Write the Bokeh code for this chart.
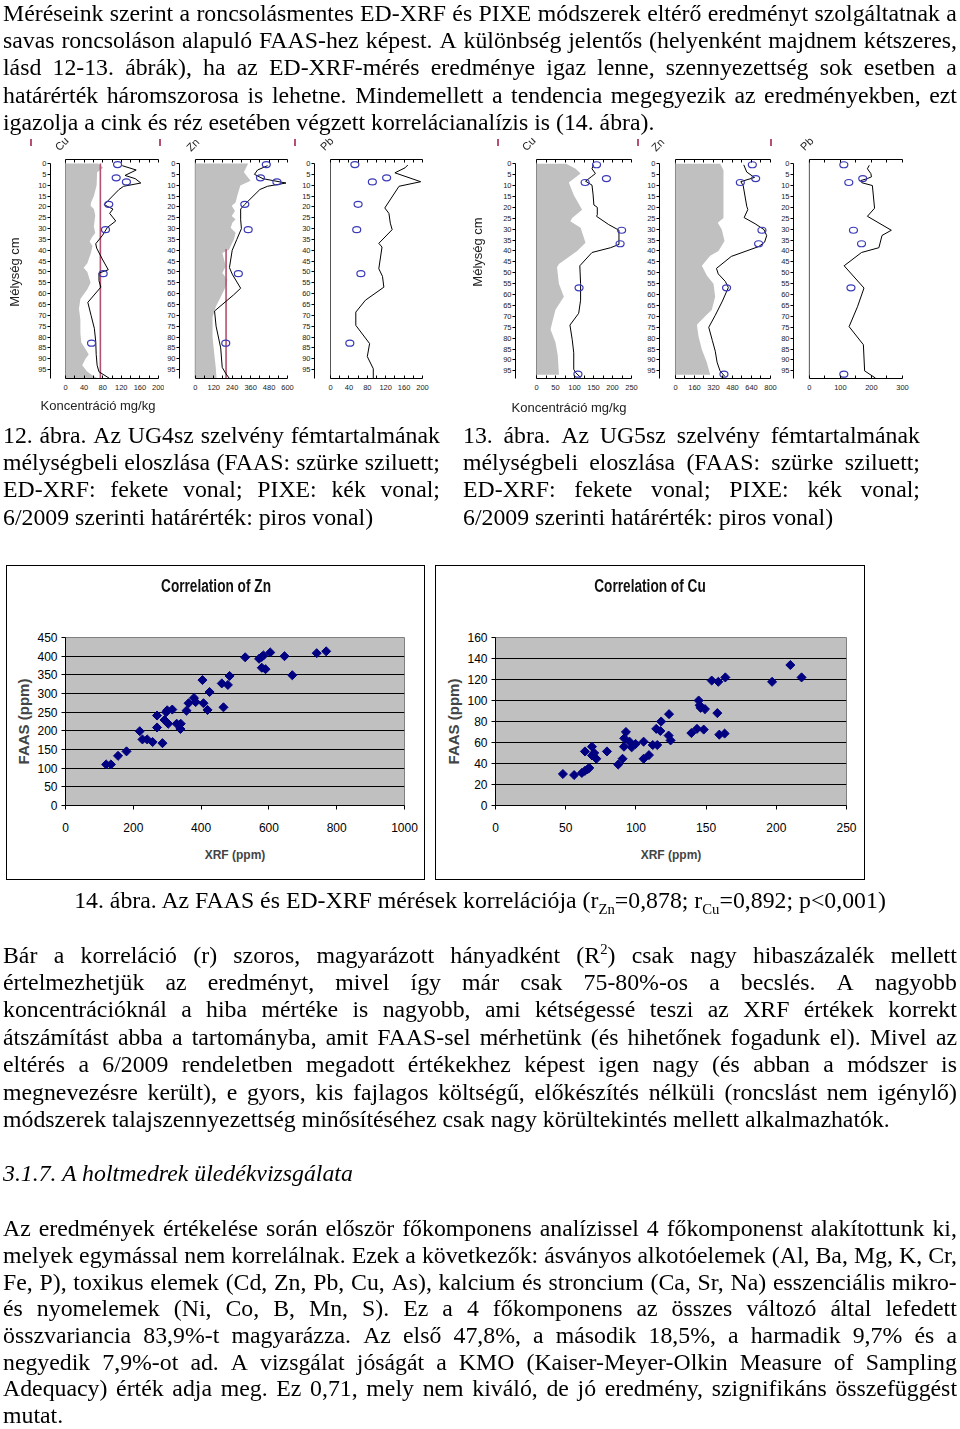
import numpy as np
from bokeh.plotting import figure
from bokeh.models import Range1d, LinearAxis, FixedTicker, Div, Spacer
from bokeh.layouts import row, column
from bokeh.embed import file_html
from bokeh.resources import INLINE

# ---------------- data: UG4sz profile (fig. 12) ----------------
ug4_pixe_depth = [0.5, 6.6, 8.5, 18.8, 30.5, 50.8, 82.8]
cu4_pixe = [112, 109, 131, 93, 86, 81, 56]
zn4_pixe = [462, 424, 531, 322, 344, 280, 198]
pb4_pixe = [53, 122, 91, 60, 57, 66, 42]

cu4_faas_depth = [0, 2, 4, 10, 15, 18, 19.5, 21, 24, 29, 32, 34, 36, 38, 41, 46, 48, 50, 55, 58,
                  62.5, 67, 72, 78, 82.5, 85.5, 88, 90, 93, 96, 98, 99.1]
cu4_faas = [70, 81, 68, 67, 61, 55, 54, 61, 64, 61, 64, 57, 52, 58, 55, 47, 39, 47, 54, 47,
            32, 29, 32, 32, 34, 43, 50, 43, 36, 47, 60, 70]
cu4_xrf_depth = [1, 3, 5.5, 7, 9, 10.5, 12, 19, 21, 23, 26.5, 29.5, 33, 37, 39, 44, 49, 50.5, 54, 57,
                 64, 70, 76, 82, 88, 93, 96, 99.1]
cu4_xrf = [122, 152, 128, 150, 162, 125, 115, 83, 102, 95, 108, 90, 80, 65, 67, 79, 92, 72, 72, 76,
           48, 55, 62, 65, 66, 68, 72, 95]

zn4_faas_depth = [0, 4, 7.9, 10.2, 14.9, 18, 19.5, 21.9, 24.2, 25.7, 27.3, 29.6, 31.9, 35, 39.7, 41.2,
                  47.4, 50.5, 53.6, 56.7, 61.4, 66, 70.7, 80, 87.7, 94, 99.1]
zn4_faas = [344, 316, 360, 293, 273, 262, 237, 258, 237, 262, 241, 230, 262, 251, 219, 176,
            198, 176, 209, 198, 166, 133, 112, 112, 123, 133, 138]
zn4_xrf_depth = [1, 3, 5, 7, 9, 10.5, 12, 19, 21, 26, 30, 35, 40, 48, 51, 57.5, 60.5, 68, 75, 85, 94, 97, 99.1]
zn4_xrf = [470, 405, 385, 440, 590, 470, 420, 320, 295, 295, 300, 270, 240, 222, 240, 295, 250,
           125, 135, 165, 175, 200, 222]

pb4_xrf_depth = [0.7, 2, 4.3, 8.4, 10.5, 20.5, 23, 27.5, 30.5, 36.8, 38.5, 48.5, 52, 57, 63, 68.5,
                 74.6, 83, 89, 94.6, 99.1]
pb4_xrf = [168, 162, 140, 196, 149, 118, 127, 130, 134, 105, 112, 105, 113, 116, 76, 55, 55, 85, 80, 93, 93]

cu_limit = 75
zn_limit = 200

# ---------------- data: UG5sz profile (fig. 13) ----------------
ug5_pixe_depth = [0.45, 6.8, 8.6, 30.5, 36.7, 56.9, 96.5]
cu5_pixe = [158, 184, 128, 224, 220, 112, 109]
zn5_pixe = [647, 675, 546, 728, 700, 430, 408]
pb5_pixe = [111, 172, 127, 142, 168, 134, 111]

cu5_faas_depth = [0, 2.3, 4.5, 8.6, 14.3, 21.1, 24.9, 26.4, 29.4, 36.2, 40, 46, 47.5, 55, 61, 67, 73, 76,
                  82, 88, 96.8]
cu5_faas = [78, 103, 116, 85, 98, 120, 94, 89, 116, 129, 107, 59, 54, 59, 72, 50, 41, 37, 50, 56, 59]
cu5_xrf_depth = [0.45, 2.3, 4.5, 6, 8, 9.8, 14.3, 18.9, 20, 23.4, 24.1, 27.9, 30.5, 37, 38.5, 40.7,
                 46.8, 55, 62.6, 68.6, 74, 80.7, 86.7, 94.3, 95.8, 98]
cu5_xrf = [150, 146, 155, 144, 129, 146, 149, 151, 160, 160, 158, 190, 217, 217, 195, 146,
           114, 116, 116, 111, 88, 94, 98, 98, 103, 116]

zn5_faas_depth = [0, 3, 24.9, 27.1, 30.2, 35.4, 40, 42.2, 46.8, 51.3, 55, 61, 67, 70, 73.9, 79.2,
                  85.2, 91.2, 96.8]
zn5_faas = [376, 404, 404, 356, 390, 413, 362, 292, 222, 264, 320, 334, 306, 250, 180, 194, 222, 264, 292]
zn5_xrf_depth = [0.5, 3.8, 6.3, 8.2, 10, 19.5, 21, 24.7, 27.5, 30.2, 33, 36, 38, 42.5, 48, 50.5, 54,
                 56.8, 63, 69.5, 75, 81, 86, 91, 95, 97.5]
zn5_xrf = [575, 600, 665, 550, 570, 600, 609, 578, 670, 745, 768, 750, 700, 470, 345, 360, 420,
           445, 395, 335, 280, 310, 335, 350, 375, 415]

pb5_xrf_depth = [0.7, 2.3, 4.5, 6, 6.8, 7.7, 8.7, 10, 20.4, 24.1, 30.5, 32.9, 38.5, 40.7, 46.8, 57,
                 65.6, 74.7, 83, 95, 98.3]
pb5_xrf = [193, 187, 198, 200, 187, 166, 169, 203, 210, 187, 264, 234, 224, 168, 112, 176, 155, 128,
           174, 178, 213]

depth_ticks = list(range(0, 100, 5))

# ---------------- data: correlation (fig. 14) ----------------
zn_xrf = [120, 134, 155, 180, 219, 227, 241, 257, 286, 270, 270, 292, 297, 303, 315, 300, 328, 339, 340, 357,
          363, 379, 384, 404, 407, 419, 425, 461, 466, 479, 484, 530, 571, 579, 584, 579, 590, 604, 646, 669,
          741, 769]
zn_faas = [110, 110, 133, 145, 199, 177, 177, 170, 167, 241, 209, 229, 250, 219, 257, 255, 219, 205, 219, 254,
           274, 288, 277, 336, 274, 256, 304, 327, 263, 323, 347, 397, 393, 398, 402, 369, 365, 410, 400, 349,
           408, 413]
cu_xrf = [48, 56, 61.5, 63.7, 65.6, 66.8, 63.7, 68.7, 68.7, 70.3, 71.8, 79.4, 87.4, 90.5, 91.5, 91.7, 92.9,
          95.5, 97, 99.8, 105.5, 105.5, 109.3, 112, 114.5, 115.2, 117.4, 118, 123.3, 123.6, 124.7, 139.5,
          143.5, 144.7, 145.4, 146.1, 148.3, 149.2, 154, 158, 158.7, 159.4, 163.7, 163.2, 197, 210, 218]
cu_faas = [30, 29, 31, 33, 34.6, 35.8, 51.5, 56, 47.7, 50, 44.5, 51.5, 39, 44.5, 56, 64, 70, 60.8, 55.4,
           58.6, 44.5, 60.8, 48, 57.6, 73, 57.6, 71, 80, 66.6, 87, 62, 69, 73, 100, 95.4, 93, 72.3, 91.8,
           119, 88, 117.8, 67.5, 122, 68.5, 117.8, 133.8, 122]
zn_xticks = [0, 200, 400, 600, 800, 1000]
zn_yticks = list(range(0, 451, 50))
cu_xticks = [0, 50, 100, 150, 200, 250]
cu_yticks = list(range(0, 161, 20))

# ---------------- styles ----------------
SANS = "Liberation Sans"
RED = "#b5506e"
BLUE = "#3a3ab8"
GREY = "#c0c0c0"
NAVY = "#000080"


def depth_panel(width, bl, br, bb, xstart, xmax, ybot, ytop, major, minor,
                pixe_d, pixe_v, xrf_d, xrf_v, faas_d=None, faas_v=None, red=None):
    p = figure(width=width, height=283, x_range=Range1d(xstart, xmax), y_range=Range1d(ybot, ytop),
               min_border_left=bl, min_border_right=br, min_border_top=24, min_border_bottom=bb,
               output_backend="svg", toolbar_location=None, outline_line_color=None,
               x_axis_location="below", y_axis_location="left")
    p.grid.visible = False
    xa = p.xaxis[0]
    xa.ticker = FixedTicker(ticks=major, minor_ticks=minor)
    xa.bounds = (0, xmax)
    xa.major_tick_in = 3
    xa.major_tick_out = 0
    xa.minor_tick_in = 3
    xa.minor_tick_out = 0
    xa.major_label_standoff = 6
    xa.major_label_text_font = SANS
    xa.major_label_text_font_size = "7.5px"
    xa.major_label_text_color = "#222"
    top = LinearAxis(ticker=FixedTicker(ticks=major, minor_ticks=minor), bounds=(0, xmax),
                     major_tick_in=3, major_tick_out=0, minor_tick_in=3, minor_tick_out=0,
                     major_label_text_color=None, major_label_text_font_size="6px",
                     major_label_standoff=0)
    p.add_layout(top, "above")
    ya = p.yaxis[0]
    ya.ticker = FixedTicker(ticks=depth_ticks)
    ya.bounds = (0, ybot)
    ya.major_tick_out = 3
    ya.major_tick_in = 0
    ya.minor_tick_line_color = None
    ya.major_label_standoff = 1
    ya.major_label_text_font = SANS
    ya.major_label_text_font_size = "7.5px"
    ya.major_label_text_color = "#222"

    p.line([0, 0], [ytop, ybot], line_color="#555", line_width=1)
    if faas_d is not None:
        p.patch([0] + faas_v + [0], [faas_d[0]] + faas_d + [faas_d[-1]],
                fill_color=GREY, line_color=None)
    if red is not None:
        p.line([red[0], red[0]], [red[1], red[2]], line_color=RED, line_width=1.6)
    p.line(xrf_v, xrf_d, line_color="black", line_width=1)
    p.ellipse(pixe_v, pixe_d, width=8, height=6, width_units="screen", height_units="screen",
              fill_color=None, line_color=BLUE, line_width=1.2)
    return p


L_BOT, L_TOP = 99.1, -1.84
R_BOT, R_TOP = 98.5, -1.95

cu4 = depth_panel(164, 50, 6, 40, -32.26, 200, L_BOT, L_TOP, [0, 40, 80, 120, 160, 200],
                  [20, 60, 100, 140, 180], ug4_pixe_depth, cu4_pixe, cu4_xrf_depth, cu4_xrf,
                  cu4_faas_depth, cu4_faas, red=(cu_limit, 0, L_BOT))
zn4 = depth_panel(132, 14, 9, 40, -103.2, 600, L_BOT, L_TOP, [0, 120, 240, 360, 480, 600],
                  [60, 180, 300, 420, 540], ug4_pixe_depth, zn4_pixe, zn4_xrf_depth, zn4_xrf,
                  zn4_faas_depth, zn4_faas, red=(zn_limit, 39.5, L_BOT))
pb4 = depth_panel(136, 18, 10, 40, -34.8, 200, L_BOT, L_TOP, [0, 40, 80, 120, 160, 200],
                  [20, 60, 100, 140, 180], ug4_pixe_depth, pb4_pixe, pb4_xrf_depth, pb4_xrf)
cu5 = depth_panel(208, 83, 9, 37, -55.3, 250, R_BOT, R_TOP, [0, 50, 100, 150, 200, 250],
                  [25, 75, 125, 175, 225], ug5_pixe_depth, cu5_pixe, cu5_xrf_depth, cu5_xrf,
                  cu5_faas_depth, cu5_faas)
zn5 = depth_panel(138, 19, 8, 37, -134.7, 800, R_BOT, R_TOP, [0, 160, 320, 480, 640, 800],
                  [80, 240, 400, 560, 720], ug5_pixe_depth, zn5_pixe, zn5_xrf_depth, zn5_xrf,
                  zn5_faas_depth, zn5_faas)
pb5 = depth_panel(182, 14, 58, 37, -51.1, 300, R_BOT, R_TOP, [0, 100, 200, 300],
                  [50, 150, 250], ug5_pixe_depth, pb5_pixe, pb5_xrf_depth, pb5_xrf)


def scatter_fig(width, bl, br, xs, ys, xmax, ymax, xticks, yticks):
    p = figure(width=width, height=315, x_range=Range1d(0, xmax), y_range=Range1d(0, ymax),
               min_border_left=bl, min_border_right=br, min_border_top=71, min_border_bottom=76,
               output_backend="svg", toolbar_location=None, background_fill_color=GREY,
               border_fill_color="white", outline_line_color="#808080")
    p.styles = {"border": "1px solid #000"}
    p.xgrid.visible = False
    p.ygrid.ticker = FixedTicker(ticks=yticks)
    p.ygrid.grid_line_color = "black"
    p.ygrid.grid_line_width = 1
    for ax, tks in ((p.xaxis[0], xticks), (p.yaxis[0], yticks)):
        ax.ticker = FixedTicker(ticks=tks)
        ax.axis_line_color = "black"
        ax.major_tick_out = 4
        ax.major_tick_in = 0
        ax.minor_tick_line_color = None
        ax.major_label_text_font = SANS
        ax.major_label_text_font_size = "12px"
        ax.major_label_text_color = "black"
    p.xaxis.major_label_standoff = 13
    p.yaxis.major_label_standoff = 4
    p.xaxis.axis_label = "XRF (ppm)"
    p.xaxis.axis_label_text_font = SANS
    p.xaxis.axis_label_text_font_size = "12px"
    p.xaxis.axis_label_text_font_style = "bold"
    p.xaxis.axis_label_standoff = 13
    p.yaxis.axis_label = "FAAS (ppm)"
    p.yaxis.axis_label_text_font = SANS
    p.yaxis.axis_label_text_font_size = "15px"
    p.yaxis.axis_label_text_font_style = "bold"
    p.yaxis.axis_label_standoff = 2
    p.scatter(xs, ys, marker="square", size=6.4, angle=np.pi / 4, fill_color=NAVY, line_color=NAVY)
    return p


zn_sc = scatter_fig(419, 58, 22, zn_xrf, zn_faas, 1000, 450, zn_xticks, zn_yticks)
cu_sc = scatter_fig(430, 59, 20, cu_xrf, cu_faas, 250, 160, cu_xticks, cu_yticks)

# ---------------- text (placed at page coordinates) ----------------
LH = 27.4
OFF = 13.4
STYLE = ("<style>"
         "sup,sub{line-height:0;font-size:0.62em;}"
         ".t{position:fixed;height:27.4px;line-height:27.4px;white-space:nowrap;"
         "font-family:'Liberation Serif','Times New Roman',serif;font-size:23.8px;color:#000;}"
         ".j{display:flex;justify-content:space-between;}"
         ".lb{position:fixed;white-space:nowrap;font-family:'Liberation Sans',Arial,sans-serif;"
         "color:#222;line-height:1;}"
         ".rt{position:fixed;width:1.6px;height:7px;background:" + RED + ";}"
         "</style>")


def jline(text, left, center, width):
    spans = "".join("<span>" + w + "</span>" for w in text.split(" "))
    return ('<div class="t j" style="left:%.1fpx;top:%.1fpx;width:%.1fpx;">%s</div>'
            % (left, center - OFF, width, spans))


def pline(text, left, center, width=None, align="left"):
    w = "" if width is None else "width:%.1fpx;" % width
    return ('<div class="t" style="left:%.1fpx;top:%.1fpx;%stext-align:%s;">%s</div>'
            % (left, center - OFF, w, align, text))


def para(lines, first_center, left, width, spacing=LH):
    out = []
    n = len(lines)
    for k, t in enumerate(lines):
        c = first_center + spacing * k
        if k == n - 1:
            out.append(pline(t, left, c))
        else:
            out.append(jline(t, left, c, width))
    return "".join(out)


def label(text, cx, cy, size, rot=0, extra=""):
    return ('<div class="lb" style="left:%.1fpx;top:%.1fpx;font-size:%.1fpx;%s'
            'transform:translate(-50%%,-50%%) rotate(%ddeg)%s;">%s</div>'
            % (cx, cy, size, "" if not extra else "font-weight:bold;color:#111;", rot,
               extra, text))


def redtick(x, y):
    return '<div class="rt" style="left:%.1fpx;top:%.1fpx;"></div>' % (x - 0.8, y - 3.5)


p1_lines = [
    "Méréseink szerint a roncsolásmentes ED-XRF és PIXE módszerek eltérő eredményt szolgáltatnak a",
    "savas roncsoláson alapuló FAAS-hez képest. A különbség jelentős (helyenként majdnem kétszeres,",
    "lásd 12-13. ábrák), ha az ED-XRF-mérés eredménye igaz lenne, szennyezettség sok esetben a",
    "határérték háromszorosa is lehetne. Mindemellett a tendencia megegyezik az eredményekben, ezt",
    "igazolja a cink és réz esetében végzett korrelácianalízis is (14. ábra).",
]
cap12 = [
    "12. ábra. Az UG4sz szelvény fémtartalmának",
    "mélységbeli eloszlása (FAAS: szürke sziluett;",
    "ED-XRF: fekete vonal; PIXE: kék vonal;",
    "6/2009 szerinti határérték: piros vonal)",
]
cap13 = [
    "13. ábra. Az UG5sz szelvény fémtartalmának",
    "mélységbeli eloszlása (FAAS: szürke sziluett;",
    "ED-XRF: fekete vonal; PIXE: kék vonal;",
    "6/2009 szerinti határérték: piros vonal)",
]
cap14 = ("14. ábra. Az FAAS és ED-XRF mérések korrelációja (r<sub>Zn</sub>=0,878; "
         "r<sub>Cu</sub>=0,892; p&lt;0,001)")
p2_lines = [
    "Bár a korreláció (r) szoros, magyarázott hányadként (R<sup>2</sup>) csak nagy hibaszázalék mellett",
    "értelmezhetjük az eredményt, mivel így már csak 75-80%-os a becslés. A nagyobb",
    "koncentrációknál a hiba mértéke is nagyobb, ami kétségessé teszi az XRF értékek korrekt",
    "átszámítást abba a tartományba, amit FAAS-sel mérhetünk (és hihetőnek fogadunk el). Mivel az",
    "eltérés a 6/2009 rendeletben megadott értékekhez képest igen nagy (és abban a módszer is",
    "megnevezésre került), e gyors, kis fajlagos költségű, előkészítés nélküli (roncslást nem igénylő)",
    "módszerek talajszennyezettség minősítéséhez csak nagy körültekintés mellett alkalmazhatók.",
]
heading = "<i>3.1.7. A holtmedrek üledékvizsgálata</i>"
p3_lines = [
    "Az eredmények értékelése során először főkomponens analízissel 4 főkomponenst alakítottunk ki,",
    "melyek egymással nem korrelálnak. Ezek a következők: ásványos alkotóelemek (Al, Ba, Mg, K, Cr,",
    "Fe, P), toxikus elemek (Cd, Zn, Pb, Cu, As), kalcium és stroncium (Ca, Sr, Na) esszenciális mikro-",
    "és nyomelemek (Ni, Co, B, Mn, S). Ez a 4 főkomponens az összes változó által lefedett",
    "összvariancia 83,9%-t magyarázza. Az első 47,8%, a második 18,5%, a harmadik 9,7% és a",
    "negyedik 7,9%-ot ad. A vizsgálat jóságát a KMO (Kaiser-Meyer-Olkin Measure of Sampling",
    "Adequacy) érték adja meg. Ez 0,71, mely nem kiváló, de jó eredmény, szignifikáns összefüggést",
    "mutat.",
]

chart_labels = (
    label("Mélység cm", 14, 272, 13, -90) + label("Mélység cm", 477, 252, 13, -90) +
    label("Koncentráció mg/kg", 98, 405, 13) + label("Koncentráció mg/kg", 569, 407, 13) +
    redtick(31, 142) + label("Cu", 62, 144, 11, -45) +
    redtick(160, 142) + label("Zn", 193, 145, 11, -45) +
    redtick(295, 142) + label("Pb", 327, 144, 11, -45) +
    redtick(498, 142) + label("Cu", 529, 144, 11, -45) +
    redtick(638, 142) + label("Zn", 658, 145, 11, -45) +
    redtick(771, 142) + label("Pb", 807, 144, 11, -45) +
    label("Correlation of Zn", 216, 587, 17.5, 0, " scaleX(0.78)") +
    label("Correlation of Cu", 650, 587, 17.5, 0, " scaleX(0.78)")
)

html = (STYLE +
        para(p1_lines, 13, 3, 954) +
        chart_labels +
        para(cap12, 435, 3, 437) + para(cap13, 435, 463, 457) +
        pline(cap14, 0, 900, width=960, align="center") +
        para(p2_lines, 955, 3, 954) +
        pline(heading, 3, 1173) +
        para(p3_lines, 1228.5, 3, 954, spacing=26.7))

text_div = Div(text=html, width=960, height=1)

layout = column(Spacer(width=960, height=135),
                row(cu4, zn4, pb4, cu5, zn5, pb5),
                Spacer(width=960, height=147),
                row(Spacer(width=6, height=315), zn_sc, Spacer(width=10, height=315), cu_sc),
                text_div)

open("out.html", "w").write(file_html(layout, INLINE, title="plot"))
